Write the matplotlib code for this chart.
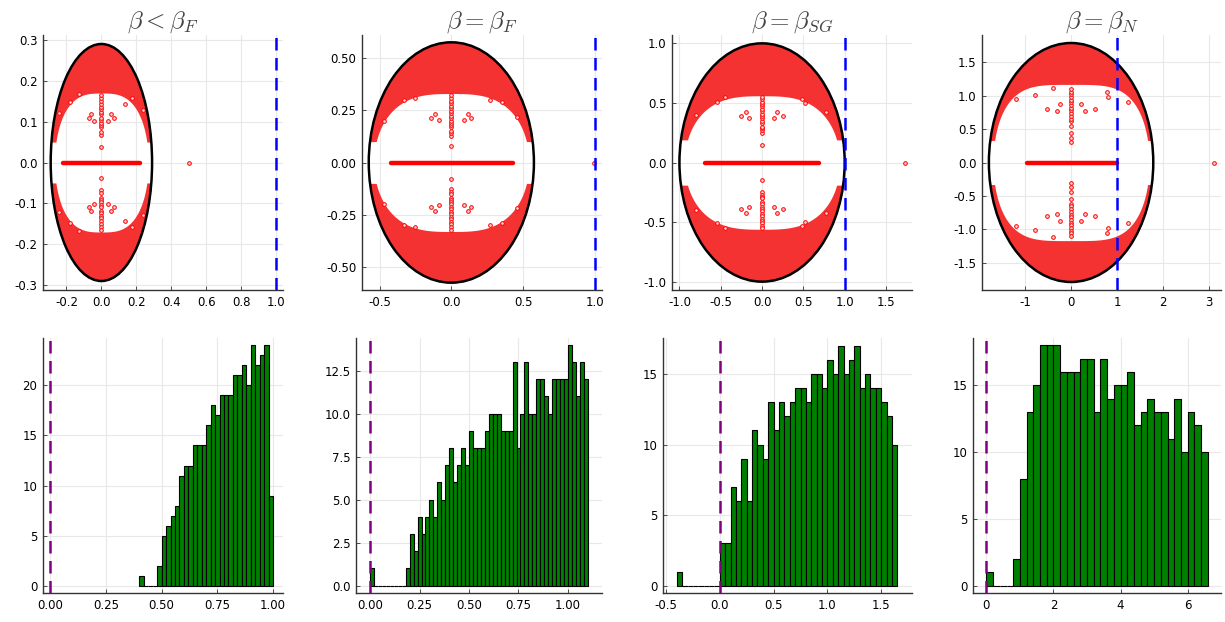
import numpy as np
import matplotlib
matplotlib.use("Agg")
import matplotlib.pyplot as plt
from matplotlib.patches import Ellipse

plt.rcParams["mathtext.fontset"] = "cm"
plt.rcParams["axes.unicode_minus"] = False
plt.rcParams["font.family"] = ["DejaVu Sans"]

# ---- top row: eigenvalue spectra ----
titles = [r"$\beta < \beta_{F}$", r"$\beta = \beta_{F}$",
          r"$\beta = \beta_{SG}$", r"$\beta = \beta_{N}$"]
radius = [0.29, 0.575, 1.0, 1.79]          # bulk circle radius
cap_inner = [0.17, 0.33, 0.56, 1.17]       # where the dense cap ends on the imaginary axis
cap_halfwidth = [0.268, 0.54, 0.94, 1.70]  # half width of the empty middle region
cap_side = [0.05, 0.10, 0.19, 0.33]        # lowest point of the bulk along the rim
cap_power = [3, 3, 3, 4]
real_lo = [-0.22, -0.42, -0.69, -0.97]     # real eigenvalues along the axis
real_hi = [0.22, 0.43, 0.69, 1.0]
outlier_x = [0.50, 0.99, 1.73, 3.12]

# points on the imaginary axis (upper half, mirrored below)
column_y = [
    [0.039, 0.068, 0.074, 0.086, 0.092, 0.097, 0.103, 0.11, 0.118, 0.124,
     0.131, 0.137, 0.144, 0.151, 0.158, 0.165],
    [0.081, 0.128, 0.141, 0.152, 0.168, 0.18, 0.19, 0.2, 0.212, 0.224,
     0.236, 0.247, 0.259, 0.27, 0.283, 0.296, 0.31, 0.322],
    [0.15, 0.25, 0.27, 0.29, 0.3, 0.33, 0.35, 0.37, 0.39, 0.41, 0.43,
     0.45, 0.47, 0.49, 0.51, 0.53, 0.55],
    [0.31, 0.37, 0.44, 0.55, 0.62, 0.65, 0.7, 0.74, 0.78, 0.82, 0.86,
     0.9, 0.94, 0.98, 1.02, 1.06, 1.1],
]
# isolated complex pairs (upper half, mirrored below)
side_x = [
    [-0.070, -0.057, -0.042, 0.038, 0.057, 0.072,
     -0.13, -0.18, 0.133, 0.177, 0.24, -0.24],
    [-0.14, -0.114, -0.088, 0.086, 0.114, 0.14,
     -0.25, -0.33, 0.27, 0.35, 0.46, -0.47],
    [-0.26, -0.19, -0.16, 0.15, 0.18, 0.25,
     -0.45, -0.55, 0.48, 0.52, 0.78, -0.8],
    [-0.78, -0.52, -0.30, -0.24, 0.22, 0.30, 0.53, 0.78, 0.80,
     -1.2, 1.25, -0.4],
]
side_y = [
    [0.108, 0.118, 0.102, 0.102, 0.118, 0.108,
     0.167, 0.147, 0.143, 0.157, 0.129, 0.12],
    [0.212, 0.231, 0.205, 0.205, 0.231, 0.212,
     0.31, 0.3, 0.3, 0.29, 0.22, 0.2],
    [0.39, 0.42, 0.37, 0.37, 0.42, 0.39,
     0.55, 0.51, 0.53, 0.5, 0.42, 0.4],
    [1.01, 0.805, 0.77, 0.88, 0.875, 0.77, 0.805, 1.06, 0.98,
     0.95, 0.9, 1.12],
]
top_xlim = [(-0.334, 1.039), (-0.622, 1.049), (-1.09, 1.815), (-1.94, 3.265)]
top_ylim = [(-0.312, 0.312), (-0.61, 0.61), (-1.07, 1.07), (-1.91, 1.91)]
top_xticks = [[-0.2, 0.0, 0.2, 0.4, 0.6, 0.8, 1.0], [-0.5, 0.0, 0.5, 1.0],
              [-1.0, -0.5, 0.0, 0.5, 1.0, 1.5], [-1, 0, 1, 2, 3]]
top_yticks = [[-0.3, -0.2, -0.1, 0.0, 0.1, 0.2, 0.3],
              [-0.5, -0.25, 0.0, 0.25, 0.5],
              [-1.0, -0.5, 0.0, 0.5, 1.0],
              [-1.5, -1.0, -0.5, 0.0, 0.5, 1.0, 1.5]]
top_xfmt = ["{:.1f}", "{:.1f}", "{:.1f}", "{:.0f}"]
top_yfmt = ["{:.1f}", "{:.2f}", "{:.1f}", "{:.1f}"]

# ---- bottom row: histograms ----
hist_start = [0.40, 0.0, -0.40, 0.0]
hist_width = [0.02, 0.02, 0.05, 0.2]
hist_counts = [
    [1, 0, 0, 0, 2, 5, 6, 7, 8, 11, 12, 12, 14, 14, 14, 16, 18, 17, 19, 19,
     19, 21, 21, 22, 20, 24, 22, 23, 24, 9],
    [1, 0, 0, 0, 0, 0, 0, 0, 0, 1, 3, 2, 4, 3, 4, 5, 4, 6, 5, 7, 8, 6, 7, 8,
     7, 9, 8, 8, 8, 9, 10, 10, 10, 9, 9, 9, 13, 8, 10, 13, 10, 10, 12, 12, 11,
     10, 12, 12, 12, 12, 14, 13, 11, 13, 12],
    [1, 0, 0, 0, 0, 0, 0, 0, 3, 3, 7, 6, 9, 6, 11, 10, 9, 13, 11, 13, 12, 13,
     14, 14, 13, 15, 15, 14, 16, 15, 17, 15, 16, 17, 14, 15, 14, 14, 13, 12, 10],
    [1, 0, 0, 0, 2, 8, 13, 15, 18, 18, 18, 16, 16, 16, 17, 17, 13, 17, 14, 15,
     15, 16, 12, 13, 14, 13, 13, 11, 14, 10, 13, 12, 10],
]
bot_xlim = [(-0.033, 1.045), (-0.071, 1.172), (-0.528, 1.786), (-0.4, 6.995)]
bot_ylim = [(-0.73, 24.73), (-0.43, 14.4), (-0.52, 17.55), (-0.55, 18.54)]
bot_xticks = [[0, 0.25, 0.5, 0.75, 1.0], [0, 0.25, 0.5, 0.75, 1.0],
              [-0.5, 0.0, 0.5, 1.0, 1.5], [0, 2, 4, 6]]
bot_yticks = [[0, 5, 10, 15, 20], [0, 2.5, 5, 7.5, 10, 12.5],
              [0, 5, 10, 15], [0, 5, 10, 15]]
bot_xfmt = ["{:.2f}", "{:.2f}", "{:.1f}", "{:.0f}"]
bot_yfmt = ["{:.0f}", "{:.1f}", "{:.0f}", "{:.0f}"]

W, H = 1225, 622
top_left = [43, 362, 672, 982]
top_right = [283, 602, 912, 1221]
bot_left = [43, 356, 663, 973]
bot_right = [283, 602, 912, 1221]

RED = "#ff0000"
FILL_RED = "#f53232"


def style(ax, xticks, yticks, xfmt, yfmt):
    for s in ["top", "right"]:
        ax.spines[s].set_visible(False)
    for s in ["left", "bottom"]:
        ax.spines[s].set_color("#333333")
        ax.spines[s].set_linewidth(1.0)
    ax.set_xticks(xticks)
    ax.set_yticks(yticks)
    ax.set_xticklabels([xfmt.format(v) for v in xticks])
    ax.set_yticklabels([yfmt.format(v) for v in yticks])
    ax.tick_params(direction="in", length=3, width=0.6, labelsize=8.5,
                   colors="#333333", labelcolor="black", pad=4)
    ax.grid(True, color="#e8e8e8", linewidth=0.8)
    ax.set_axisbelow(True)


fig = plt.figure(figsize=(W / 100, H / 100), dpi=100)

for i in range(4):
    ax = fig.add_axes([top_left[i] / W, 1 - 290 / H,
                       (top_right[i] - top_left[i]) / W, 255 / H])
    r = radius[i]
    xs = np.linspace(-r, r, 800)
    y_out = r * np.sqrt(np.clip(1 - (xs / r) ** 2, 0, None))
    # inner edge of the dense cap: a flattened oval, the bulk hugging the rim
    t = np.clip(1 - np.abs(xs / cap_halfwidth[i]) ** cap_power[i], 0, None)
    y_in = np.maximum(cap_inner[i] * np.sqrt(t), cap_side[i])
    ok = y_in < y_out
    ax.fill_between(xs, y_in, y_out, where=ok, color=FILL_RED, lw=0, zorder=2)
    ax.fill_between(xs, -y_out, -y_in, where=ok, color=FILL_RED, lw=0, zorder=2)

    ax.plot([real_lo[i], real_hi[i]], [0, 0], color=RED, lw=3.2,
            solid_capstyle="round", zorder=3)

    cy = np.array(column_y[i])
    sx = np.array(side_x[i])
    sy = np.array(side_y[i])
    px = np.concatenate([np.zeros(len(cy)), np.zeros(len(cy)), sx, sx, [outlier_x[i]]])
    py = np.concatenate([cy, -cy, sy, -sy, [0.0]])
    ax.scatter(px, py, s=7, facecolor="#ffd0d0", edgecolor=RED, lw=0.7, zorder=4)

    ax.add_patch(Ellipse((0, 0), 2 * r, 2 * r, fill=False, color="black",
                         lw=1.8, zorder=5))
    ax.axvline(1.0, color="blue", lw=1.8, ls=(0, (5, 3)), zorder=6)

    ax.set_xlim(top_xlim[i])
    ax.set_ylim(top_ylim[i])
    style(ax, top_xticks[i], top_yticks[i], top_xfmt[i], top_yfmt[i])
    ax.set_title(titles[i], fontsize=18, color="#444444", pad=4)

for i in range(4):
    ax = fig.add_axes([bot_left[i] / W, 1 - 593 / H,
                       (bot_right[i] - bot_left[i]) / W, 255 / H])
    counts = hist_counts[i]
    edges = hist_start[i] + hist_width[i] * np.arange(len(counts))
    ax.bar(edges, counts, width=hist_width[i], align="edge", color="green",
           edgecolor="black", linewidth=0.8, zorder=2)
    ax.axvline(0.0, color="purple", lw=1.8, ls=(0, (5, 3)), zorder=3)
    ax.set_xlim(bot_xlim[i])
    ax.set_ylim(bot_ylim[i])
    style(ax, bot_xticks[i], bot_yticks[i], bot_xfmt[i], bot_yfmt[i])

fig.savefig("out.png", dpi=100)
